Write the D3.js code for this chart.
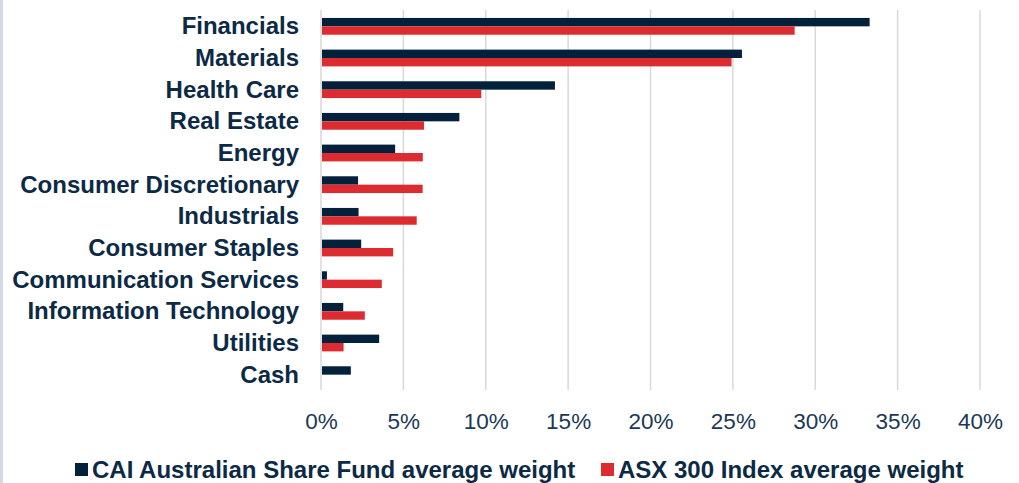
<!DOCTYPE html>
<html>
<head>
<meta charset="utf-8">
<script src="https://cdn.jsdelivr.net/npm/d3@7"></script>
<style>
  body { margin: 0; background: #fff; }
  svg { display: block; font-family: "Liberation Sans", Arial, sans-serif; }
</style>
</head>
<body>
<div id="plot"></div>
<script>
  // sector weights, % of portfolio
  const sectors = ["Financials", "Materials", "Health Care", "Real Estate", "Energy",
      "Consumer Discretionary", "Industrials", "Consumer Staples",
      "Communication Services", "Information Technology", "Utilities", "Cash"];
  const fundWeights = [33.3, 25.55, 14.2, 8.4, 4.5, 2.25, 2.28, 2.44, 0.36, 1.35, 3.53, 1.81];
  const indexWeights = [28.75, 24.92, 9.73, 6.25, 6.18, 6.17, 5.81, 4.38, 3.69, 2.66, 1.37, 0];
  const seriesNames = ["CAI Australian Share Fund average weight", "ASX 300 Index average weight"];
  const xTicks = [0, 5, 10, 15, 20, 25, 30, 35, 40];

  const w = 1019;
  const h = 483;
  const margin = {top: 10, right: 39, bottom: 93, left: 321};
  const innerWidth = w - margin.left - margin.right;
  const innerHeight = h - margin.top - margin.bottom;

  const colors = ["#03213b", "#dc2c31"];

  const svg = d3.select("div#plot")
      .append("svg")
      .attr("width", w)
      .attr("height", h);

  // thin border strip on the left edge
  svg.append("rect")
      .attr("x", 0).attr("y", 0)
      .attr("width", 3).attr("height", h)
      .attr("fill", "#d3dbe2");

  const xScale = d3.scaleLinear()
      .domain([0, 40])
      .range([0, innerWidth]);

  const yScale = d3.scaleBand()
      .domain(sectors)
      .range([0, innerHeight])
      .paddingInner(0.47)
      .paddingOuter(0.235);

  const ySub = d3.scaleBand()
      .domain([0, 1])
      .range([0, yScale.bandwidth()]);

  const g = svg.append("g")
      .attr("transform", `translate(${margin.left}, ${margin.top})`);

  // gridlines
  g.append("g")
    .selectAll("line")
    .data(xTicks)
    .enter().append("line")
      .attr("x1", d => xScale(d))
      .attr("x2", d => xScale(d))
      .attr("y1", 0)
      .attr("y2", innerHeight)
      .attr("stroke", "#d9d9d9")
      .attr("stroke-width", 1.5);

  const rows = sectors.map((s, i) => ({sector: s, values: [fundWeights[i], indexWeights[i]]}));

  const groups = g.append("g")
    .selectAll("g")
    .data(rows)
    .enter().append("g")
      .attr("transform", d => `translate(0, ${yScale(d.sector) + 0.5})`);

  groups.selectAll("rect")
    .data(d => d.values)
    .enter().append("rect")
      .attr("x", xScale(0) + 1)
      .attr("y", (d, i) => ySub(i))
      .attr("width", d => Math.max(0, xScale(d) - 1))
      .attr("height", ySub.bandwidth())
      .attr("fill", (d, i) => colors[i]);

  // category labels
  const yAxis = d3.axisLeft(yScale).tickSize(0).tickPadding(22);
  g.append("g")
      .call(yAxis)
      .call(s => s.select(".domain").remove())
      .selectAll("text")
      .attr("dy", "0.35em")
      .attr("fill", "#0c2a45")
      .attr("font-size", "24px")
      .attr("font-weight", "bold")
      .attr("font-family", "Liberation Sans, Arial, sans-serif");

  // x tick labels
  const xAxis = d3.axisBottom(xScale)
      .tickValues(xTicks)
      .tickFormat(d => d + "%")
      .tickSize(0)
      .tickPadding(23);
  g.append("g")
      .attr("transform", `translate(0, ${innerHeight})`)
      .call(xAxis)
      .call(s => s.select(".domain").remove())
      .selectAll("text")
      .attr("fill", "#1b3854")
      .attr("font-size", "22.5px")
      .attr("font-family", "Liberation Sans, Arial, sans-serif");

  // legend
  const legendX = [75, 601];
  const legend = svg.append("g")
    .selectAll("g")
    .data(seriesNames)
    .enter().append("g")
      .attr("transform", (d, i) => `translate(${legendX[i]}, 0)`);

  legend.append("rect")
      .attr("x", 0)
      .attr("y", 463)
      .attr("width", 13)
      .attr("height", 13)
      .attr("fill", (d, i) => colors[i]);

  legend.append("text")
      .attr("x", 17)
      .attr("y", 478)
      .attr("fill", "#0c2a45")
      .attr("font-size", "24px")
      .attr("font-weight", "bold")
      .text(d => d);
</script>
</body>
</html>
